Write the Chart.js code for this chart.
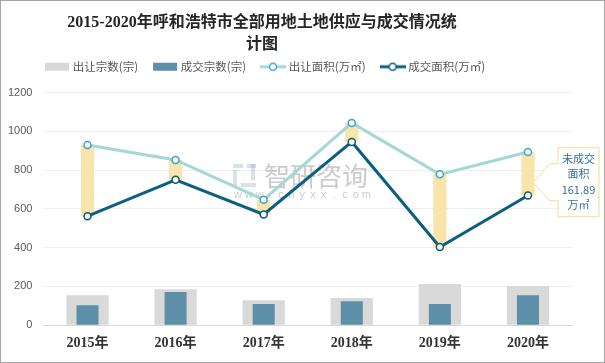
<!DOCTYPE html>
<html>
<head>
<meta charset="utf-8">
<script src="https://cdn.jsdelivr.net/npm/chart.js@4.4.0/dist/chart.umd.min.js"></script>
<style>
  html, body { margin: 0; padding: 0; background: #fff; }
  #wrap { position: relative; width: 605px; height: 363px; box-sizing: border-box; border: 1px solid #a6a6a6; }
</style>
</head>
<body>
<div id="wrap"><canvas id="myChart"></canvas></div>
<script>
var years = ['2015年', '2016年', '2017年', '2018年', '2019年', '2020年'];
var supplyCount = [155, 186, 129, 140, 212, 202];   // 出让宗数(宗)
var dealCount = [103, 171, 109, 124, 109, 155];     // 成交宗数(宗)
var supplyArea = [929, 852, 647, 1043, 778, 893];   // 出让面积(万㎡)
var dealArea = [562, 750, 571, 945, 403, 669];      // 成交面积(万㎡)
var titleLines = ['2015-2020年呼和浩特市全部用地土地供应与成交情况统', '计图'];
var noteLines = ['未成交', '面积', '161.89', '万㎡'];

var CJK = '"Noto Sans CJK SC", "Noto Sans", sans-serif';
var SERIF = '"Liberation Serif", "DejaVu Serif", "Noto Sans CJK SC", serif';

// small canvases used as legend markers
function legendIcon(kind, color, pointColor) {
    var c = document.createElement('canvas');
    c.width = 26; c.height = 12;
    var g = c.getContext('2d');
    if (kind === 'bar') {
        g.fillStyle = color;
        g.fillRect(1, 2, 24, 8);
    } else {
        g.strokeStyle = color; g.lineWidth = 3;
        g.beginPath(); g.moveTo(0, 6); g.lineTo(26, 6); g.stroke();
        g.fillStyle = '#fff'; g.strokeStyle = pointColor; g.lineWidth = 1.5;
        g.beginPath(); g.arc(13, 6, 3.5, 0, Math.PI * 2); g.fill(); g.stroke();
    }
    return c;
}

var headerPlugin = {
    id: 'header',
    afterLayout: function (chart) {
        // move the legend row to where the original has it
        var lg = chart.legend;
        var dx = 29 - lg.left;
        lg.left += dx; lg.right += dx;
        lg.top -= 10; lg.bottom -= 10;
    },
    afterDraw: function (chart) {
        var ctx = chart.ctx;
        ctx.save();
        ctx.font = 'bold 16px ' + SERIF;
        ctx.fillStyle = '#262626';
        ctx.textAlign = 'center';
        ctx.textBaseline = 'middle';
        titleLines.forEach(function (t, i) { ctx.fillText(t, 261, 22 + i * 22); });
        ctx.restore();
    }
};

var watermarkPlugin = {
    id: 'watermark',
    beforeDatasetsDraw: function (chart) {
        var ctx = chart.ctx;
        ctx.save();
        // logo
        ctx.fillStyle = 'rgba(150,170,200,0.35)';
        ctx.fillRect(232, 163, 10, 4);
        ctx.fillRect(232, 169, 4, 17);
        ctx.fillRect(246, 163, 9, 4);
        ctx.fillRect(250, 163, 4, 16);
        ctx.fillRect(240, 182, 15, 4);
        ctx.fillStyle = 'rgba(140,140,140,0.45)';
        ctx.font = '26px ' + CJK;
        ctx.textBaseline = 'middle';
        ctx.fillText('智研咨询', 263, 175);
        ctx.font = '11px "Liberation Sans", sans-serif';
        ctx.textAlign = 'center';
        var site = 'www.chyxx.com';
        for (var i = 0; i < site.length; i++) {
            ctx.fillText(site[i], 237 + i * 10.7, 194);
        }
        ctx.restore();
    }
};

var notePlugin = {
    id: 'note',
    afterDatasetsDraw: function (chart) {
        var ctx = chart.ctx;
        var x = chart.scales.x.getPixelForValue(5);
        var mid = (chart.scales.y.getPixelForValue(supplyArea[5]) + chart.scales.y.getPixelForValue(dealArea[5])) / 2;
        var l = x + 30, r = x + 71, top = mid - 26, bot = mid + 43;
        ctx.save();
        ctx.beginPath();
        ctx.moveTo(l, top);
        ctx.lineTo(r, top);
        ctx.lineTo(r, bot);
        ctx.lineTo(l, bot);
        ctx.lineTo(l, mid + 27);
        ctx.lineTo(l - 8, mid + 27);
        ctx.lineTo(x + 5, mid + 9);
        ctx.lineTo(l - 8, mid - 10);
        ctx.lineTo(l, mid - 10);
        ctx.closePath();
        ctx.fillStyle = '#fff';
        ctx.fill();
        ctx.strokeStyle = '#f7d98f';
        ctx.lineWidth = 1;
        ctx.stroke();
        ctx.fillStyle = '#3a6f9a';
        ctx.font = '11px ' + CJK;
        ctx.textAlign = 'center';
        ctx.textBaseline = 'middle';
        noteLines.forEach(function (t, i) { ctx.fillText(t, (l + r) / 2, mid - 15 + i * 15.5); });
        ctx.restore();
    }
};

var ctx = document.getElementById('myChart').getContext('2d');
var myChart = new Chart(ctx, {
    type: 'bar',
    data: {
        labels: years,
        datasets: [
            {
                label: '出让宗数(宗)',
                data: supplyCount,
                backgroundColor: '#d9d9d9',
                barPercentage: 0.48,
                categoryPercentage: 1,
                grouped: false,
                order: 4,
                legendIcon: legendIcon('bar', '#d9d9d9')
            },
            {
                label: '成交宗数(宗)',
                data: dealCount,
                backgroundColor: '#5d90a8',
                barPercentage: 0.25,
                categoryPercentage: 1,
                grouped: false,
                order: 3,
                legendIcon: legendIcon('bar', '#5d90a8')
            },
            {
                type: 'line',
                label: '出让面积(万㎡)',
                data: supplyArea,
                borderColor: '#a3d8d4',
                borderWidth: 3,
                pointRadius: 3.5,
                pointBorderWidth: 1.5,
                pointBorderColor: '#3aa3d2',
                pointBackgroundColor: '#fff',
                tension: 0,
                order: 1,
                legendIcon: legendIcon('line', '#a3d8d4', '#3aa3d2')
            },
            {
                type: 'line',
                label: '成交面积(万㎡)',
                data: dealArea,
                borderColor: '#0b5f80',
                borderWidth: 3,
                pointRadius: 3.5,
                pointBorderWidth: 1.5,
                pointBorderColor: '#0b5a78',
                pointBackgroundColor: '#fff',
                tension: 0,
                order: 0,
                legendIcon: legendIcon('line', '#0b5f80', '#0b5a78')
            },
            {
                label: '未成交',
                data: dealArea.map(function (d, i) { return [d, supplyArea[i]]; }),
                backgroundColor: '#f9e4ab',
                barPercentage: 0.15,
                categoryPercentage: 1,
                grouped: false,
                order: 2
            }
        ]
    },
    options: {
        responsive: true,
        maintainAspectRatio: false,
        animation: false,
        layout: {
            autoPadding: false,
            padding: { top: 53, left: -4, right: 32, bottom: 0 }
        },
        scales: {
            x: {
                grid: { display: false, drawTicks: false },
                border: { color: '#d9d9d9' },
                ticks: {
                    color: '#333',
                    padding: 10,
                    font: { family: SERIF, size: 14, weight: 'bold' }
                }
            },
            y: {
                min: 0,
                max: 1200,
                grid: { color: '#eeeeee', drawTicks: false },
                border: { display: false },
                ticks: {
                    stepSize: 200,
                    color: '#595959',
                    padding: 11,
                    font: { family: '"Liberation Sans", sans-serif', size: 11 },
                    callback: function (v) { return String(v); }
                }
            }
        },
        plugins: {
            legend: {
                position: 'top',
                align: 'start',
                labels: {
                    usePointStyle: true,
                    pointStyleWidth: 20,
                    padding: 17,
                    color: '#595959',
                    font: { family: CJK, size: 11.5 },
                    generateLabels: function (chart) {
                        return chart.data.datasets.map(function (ds, i) {
                            return {
                                text: ds.label,
                                pointStyle: ds.legendIcon,
                                datasetIndex: i,
                                hidden: false,
                                fontColor: '#595959',
                                lineWidth: 0
                            };
                        }).filter(function (it) { return it.pointStyle; });
                    }
                }
            },
            tooltip: { enabled: false }
        }
    },
    plugins: [headerPlugin, watermarkPlugin, notePlugin]
});
</script>
</body>
</html>
